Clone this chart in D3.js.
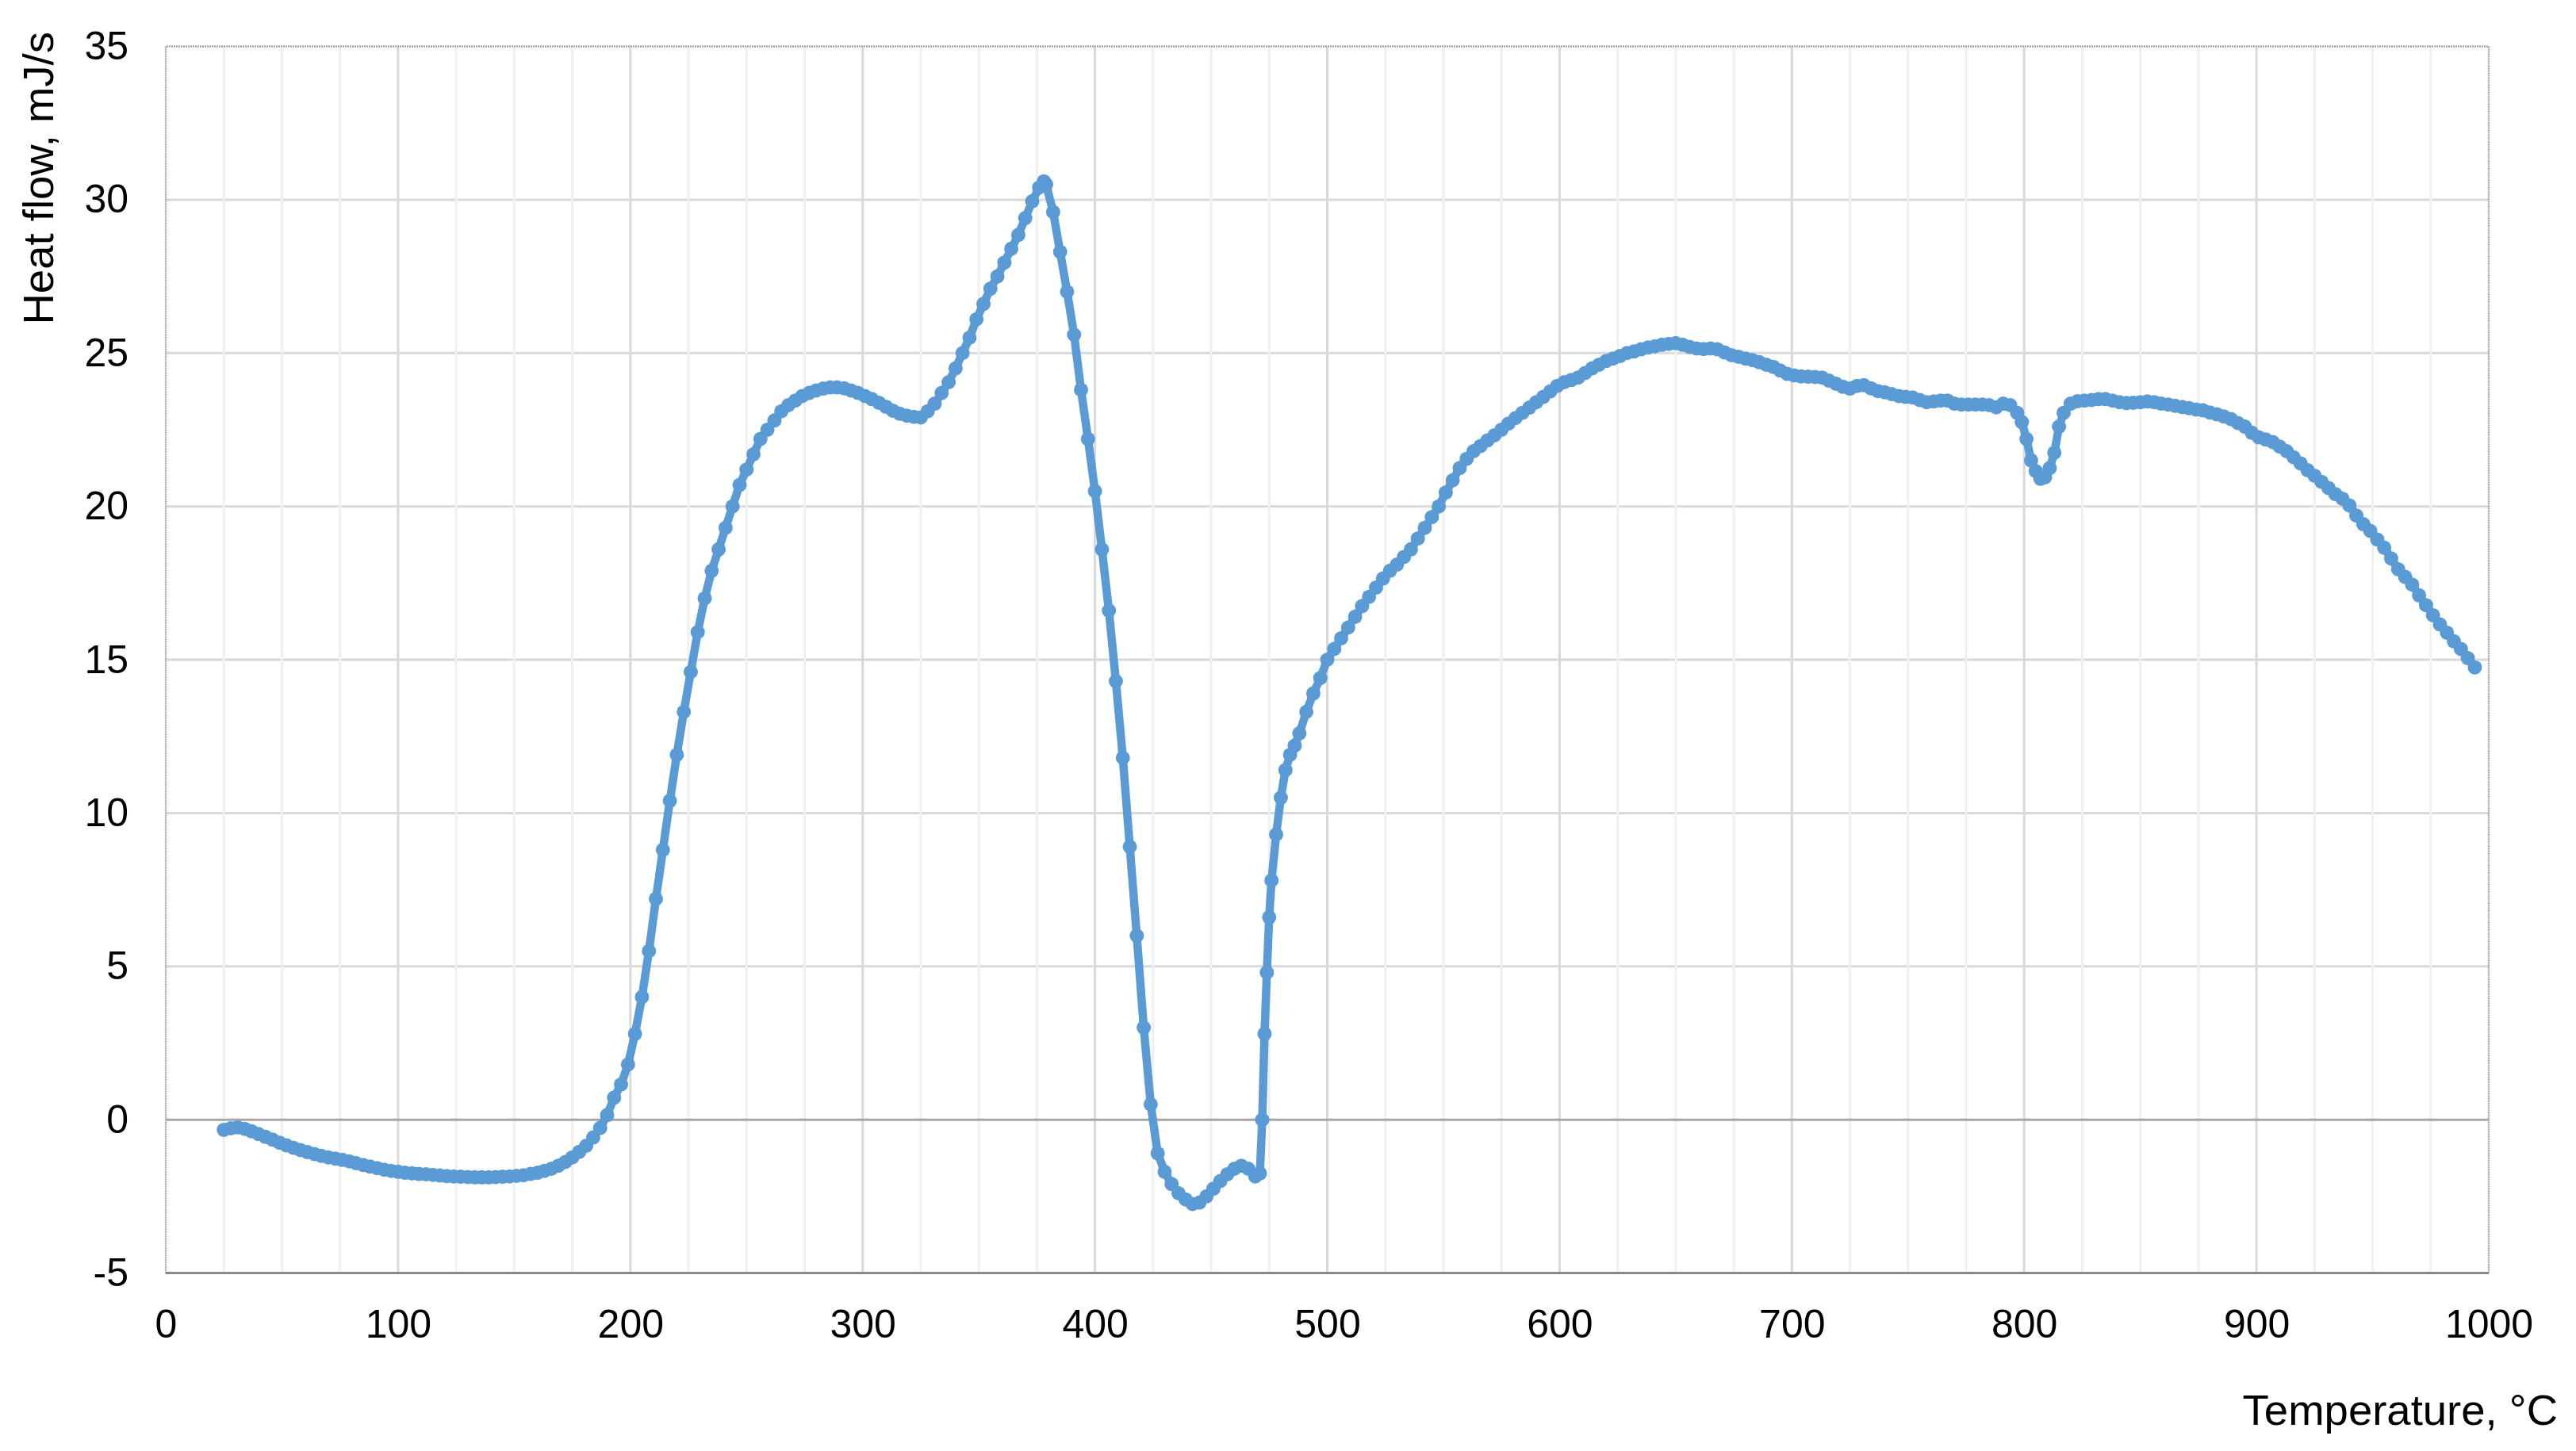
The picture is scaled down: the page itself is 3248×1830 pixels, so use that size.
<!DOCTYPE html>
<html>
<head>
<meta charset="utf-8">
<script src="https://cdn.jsdelivr.net/npm/d3@7"></script>
<style>
	body { margin: 0; background: #fff; }
	text { font-family: "Liberation Sans", Arial, sans-serif; fill: #000; }
</style>
</head>
<body>
<script>
(function (d3) {
	'use strict';

	// Heat flow curve (temperature in °C)
	var temps = [
		25, 28, 31, 34, 37, 40, 43, 46, 49, 52, 55, 58, 61, 64, 67, 70, 73, 76, 79, 82,
		85, 88, 91, 94, 97, 100, 103, 106, 109, 112, 115, 118, 121, 124, 127, 130, 133, 136, 139, 142,
		145, 148, 151, 154, 157, 160, 163, 166, 169, 172, 175, 178, 181, 184, 187, 190, 193, 196, 199, 202,
		205, 208, 211, 214, 217, 220, 223, 226, 229, 232, 235, 238, 241, 244, 247, 250, 253, 256, 259, 262,
		265, 268, 271, 274, 277, 280, 283, 286, 289, 292, 295, 298, 301, 304, 307, 310, 313, 316, 319, 322,
		325, 328, 331, 334, 337, 340, 343, 346, 349, 352, 355, 358, 361, 364, 367, 370, 373, 376, 378, 379,
		382, 385, 388, 391, 394, 397, 400, 403, 406, 409, 412, 415, 418, 421, 424, 427, 430, 433, 436, 439,
		442, 445, 448, 451, 454, 457, 460, 463, 466, 469, 471, 472, 473, 474, 475, 476, 478, 480, 482, 484,
		486, 488, 491, 494, 497, 500, 503, 506, 509, 512, 515, 518, 521, 524, 527, 530, 533, 536, 539, 542,
		545, 548, 551, 554, 557, 560, 563, 566, 569, 572, 575, 578, 581, 584, 587, 590, 593, 596, 599, 602,
		605, 608, 611, 614, 617, 620, 623, 626, 629, 632, 635, 638, 641, 644, 647, 650, 653, 656, 659, 662,
		665, 668, 671, 674, 677, 680, 683, 686, 689, 692, 695, 698, 701, 704, 707, 710, 713, 716, 719, 722,
		725, 728, 731, 734, 737, 740, 743, 746, 749, 752, 755, 758, 761, 764, 767, 770, 773, 776, 779, 782,
		785, 788, 791, 794, 797, 799, 801, 803, 805, 807, 809, 811, 813, 815, 817, 820, 823, 826, 829, 832,
		835, 838, 841, 844, 847, 850, 853, 856, 859, 862, 865, 868, 871, 874, 877, 880, 883, 886, 889, 892,
		895, 898, 901, 904, 907, 910, 913, 916, 919, 922, 925, 928, 931, 934, 937, 940, 943, 946, 949, 952,
		955, 958, 961, 964, 967, 970, 973, 976, 979, 982, 985, 988, 991, 994
	];

	var heatFlow = [
		-0.33, -0.28, -0.25, -0.3, -0.38, -0.47, -0.56, -0.65, -0.75, -0.84, -0.92, -0.99, -1.06, -1.12, -1.18, -1.23, -1.27, -1.31, -1.36, -1.42,
		-1.48, -1.53, -1.58, -1.63, -1.67, -1.7, -1.73, -1.75, -1.77, -1.78, -1.8, -1.82, -1.84, -1.85, -1.86, -1.87, -1.88, -1.88, -1.88, -1.87,
		-1.86, -1.85, -1.83, -1.81, -1.77, -1.73, -1.67, -1.6, -1.5, -1.38, -1.23, -1.05, -0.85, -0.58, -0.27, 0.15, 0.72, 1.15, 1.8, 2.8,
		4.0, 5.5, 7.2, 8.8, 10.4, 11.9, 13.3, 14.6, 15.9, 17.0, 17.9, 18.6, 19.3, 20.0, 20.7, 21.2, 21.7, 22.2, 22.5, 22.8,
		23.1, 23.3, 23.45, 23.6, 23.7, 23.78, 23.84, 23.88, 23.88, 23.85, 23.78, 23.7, 23.6, 23.5, 23.38, 23.25, 23.12, 23.02, 22.96, 22.92,
		22.9, 23.1, 23.35, 23.7, 24.05, 24.5, 25.0, 25.5, 26.1, 26.6, 27.1, 27.5, 27.95, 28.4, 28.85, 29.4, 29.95, 30.4, 30.6, 30.5,
		29.6, 28.3, 27.0, 25.6, 23.8, 22.2, 20.5, 18.6, 16.6, 14.3, 11.8, 8.9, 6.0, 3.0, 0.5, -1.1, -1.7, -2.1, -2.4, -2.6,
		-2.75, -2.7, -2.5, -2.25, -2.0, -1.78, -1.6, -1.5, -1.6, -1.85, -1.75, 0.0, 2.8, 4.8, 6.6, 7.8, 9.3, 10.5, 11.4, 11.9,
		12.2, 12.6, 13.3, 13.9, 14.4, 15.0, 15.35, 15.7, 16.05, 16.4, 16.75, 17.05, 17.35, 17.65, 17.9, 18.1, 18.35, 18.6, 18.95, 19.3,
		19.65, 20.0, 20.45, 20.85, 21.25, 21.55, 21.8, 21.97, 22.15, 22.32, 22.5, 22.7, 22.88, 23.05, 23.22, 23.4, 23.57, 23.75, 23.93, 24.05,
		24.12, 24.2, 24.35, 24.5, 24.62, 24.74, 24.82, 24.9, 25.0, 25.05, 25.12, 25.18, 25.22, 25.27, 25.3, 25.32, 25.27, 25.2, 25.15, 25.13,
		25.15, 25.12, 25.02, 24.93, 24.88, 24.82, 24.77, 24.7, 24.62, 24.55, 24.43, 24.32, 24.27, 24.24, 24.23, 24.22, 24.2, 24.1, 24.0, 23.9,
		23.84, 23.93, 23.95, 23.85, 23.76, 23.72, 23.66, 23.6, 23.57, 23.55, 23.47, 23.4, 23.42, 23.45, 23.45, 23.35, 23.32, 23.32, 23.32, 23.32,
		23.3, 23.23, 23.35, 23.3, 23.05, 22.75, 22.2, 21.5, 21.15, 20.9, 20.95, 21.25, 21.75, 22.6, 23.05, 23.35, 23.43, 23.45, 23.47, 23.5,
		23.5, 23.45, 23.4, 23.37, 23.38, 23.4, 23.42, 23.4, 23.35, 23.32, 23.28, 23.24, 23.2, 23.16, 23.13, 23.06, 23.0, 22.93, 22.85, 22.72,
		22.6, 22.4, 22.25, 22.18, 22.1, 21.95, 21.8, 21.6, 21.4, 21.18, 21.0, 20.8, 20.6, 20.4, 20.25, 20.03, 19.7, 19.42, 19.2, 18.92,
		18.65, 18.3, 17.95, 17.7, 17.45, 17.1, 16.78, 16.45, 16.15, 15.88, 15.6, 15.35, 15.05, 14.75
	];

	var xTicks = [0, 100, 200, 300, 400, 500, 600, 700, 800, 900, 1000];
	var yTicks = [-5, 0, 5, 10, 15, 20, 25, 30, 35];

	var xTitle = 'Temperature, °C',
	    yTitle = 'Heat flow, mJ/s';

	var width = 3248,
	    height = 1830,
	    left = 209,
	    right = 3138,
	    top = 58.5,
	    bottom = 1605.5,
	    blue = '#5b9bd5';

	var points = temps.map(function (t, i) { return [t, heatFlow[i]]; });

	var x = d3.scaleLinear().domain([0, 1000]).range([left, right]);
	var y = d3.scaleLinear().domain([-5, 35]).range([bottom, top]);

	var svg = d3.select('body')
		.append('svg')
		.attr('width', width)
		.attr('height', height);

	svg.append('rect')
		.attr('width', width)
		.attr('height', height)
		.attr('fill', '#fff');

	// horizontal grid
	svg.append('g')
		.selectAll('line')
		.data(yTicks.filter(function (d) { return d !== -5 && d !== 0 && d !== 35; }))
		.enter()
		.append('line')
		.attr('x1', left).attr('x2', right)
		.attr('y1', y).attr('y2', y)
		.attr('stroke', '#d9d9d9')
		.attr('stroke-width', 3);

	// minor vertical grid every 25 °C
	svg.append('g')
		.selectAll('line')
		.data(d3.range(25, 1000, 25).filter(function (d) { return d % 100 !== 0; }))
		.enter()
		.append('line')
		.attr('x1', x).attr('x2', x)
		.attr('y1', top).attr('y2', bottom)
		.attr('stroke', '#f0f0f0')
		.attr('stroke-width', 3);

	// major vertical grid
	svg.append('g')
		.selectAll('line')
		.data(xTicks.slice(1, -1))
		.enter()
		.append('line')
		.attr('x1', x).attr('x2', x)
		.attr('y1', top).attr('y2', bottom)
		.attr('stroke', '#d9d9d9')
		.attr('stroke-width', 3);

	// plot border (top, left, right)
	svg.append('path')
		.attr('d', 'M' + left + ',' + bottom + 'V' + top + 'H' + right + 'V' + bottom)
		.attr('fill', 'none')
		.attr('stroke', '#a6a6a6')
		.attr('stroke-width', 2.5)
		.attr('stroke-dasharray', '2,1');

	// zero line
	svg.append('line')
		.attr('x1', left).attr('x2', right)
		.attr('y1', y(0)).attr('y2', y(0))
		.attr('stroke', '#a6a6a6')
		.attr('stroke-width', 3);

	// bottom axis line
	svg.append('line')
		.attr('x1', left).attr('x2', right)
		.attr('y1', bottom).attr('y2', bottom)
		.attr('stroke', '#898989')
		.attr('stroke-width', 3);

	var xAxis = svg.append('g')
		.attr('transform', 'translate(0,' + bottom + ')')
		.call(d3.axisBottom(x).tickValues(xTicks).tickSize(0).tickPadding(46).tickFormat(String));
	xAxis.select('.domain').remove();
	xAxis.selectAll('text')
		.style('font-size', '50px')
		.style('font-family', '"Liberation Sans", Arial, sans-serif')
		.attr('fill', '#000');

	var yAxis = svg.append('g')
		.attr('transform', 'translate(' + left + ',0)')
		.call(d3.axisLeft(y).tickValues(yTicks).tickSize(0).tickPadding(47).tickFormat(String));
	yAxis.select('.domain').remove();
	yAxis.selectAll('text')
		.style('font-size', '50px')
		.style('font-family', '"Liberation Sans", Arial, sans-serif')
		.attr('fill', '#000');

	// curve
	var line = d3.line()
		.x(function (d) { return x(d[0]); })
		.y(function (d) { return y(d[1]); });

	svg.append('path')
		.datum(points)
		.attr('d', line)
		.attr('fill', 'none')
		.attr('stroke', blue)
		.attr('stroke-width', 10.5)
		.attr('stroke-linejoin', 'round')
		.attr('stroke-linecap', 'round');

	svg.append('g')
		.selectAll('circle')
		.data(points)
		.enter()
		.append('circle')
		.attr('cx', function (d) { return x(d[0]); })
		.attr('cy', function (d) { return y(d[1]); })
		.attr('r', 9)
		.attr('fill', blue);

	// axis titles
	svg.append('text')
		.attr('x', 3225)
		.attr('y', 1797)
		.attr('text-anchor', 'end')
		.style('font-size', '54.5px')
		.text(xTitle);

	svg.append('text')
		.attr('transform', 'translate(67,40) rotate(-90)')
		.attr('text-anchor', 'end')
		.style('font-size', '54.5px')
		.text(yTitle);

})(d3);
</script>
</body>
</html>
